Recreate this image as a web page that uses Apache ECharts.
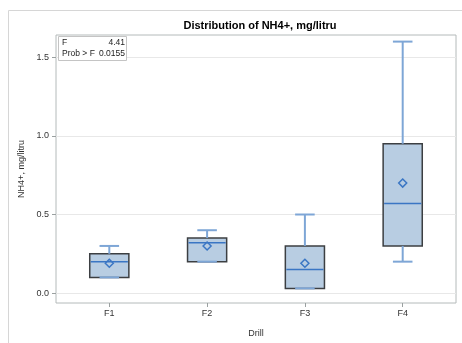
<!DOCTYPE html>
<html><head><meta charset="utf-8">
<script src="https://cdn.jsdelivr.net/npm/echarts@6/dist/echarts.min.js"></script>
<style>html,body{margin:0;padding:0;background:#fff}#c{width:462px;height:343px}</style>
</head><body><div id="c"></div>
<script>
const categories = ['F1','F2','F3','F4'];
const whiskerLow = [0.10, 0.20, 0.03, 0.20];
const q1 = [0.10, 0.20, 0.03, 0.30];
const median = [0.20, 0.32, 0.15, 0.57];
const q3 = [0.25, 0.35, 0.30, 0.95];
const whiskerHigh = [0.30, 0.40, 0.50, 1.60];
const means = [0.19, 0.30, 0.19, 0.70];
const yTicks = [0, 0.5, 1.0, 1.5];
const statsLabels = ['F', 'Prob > F'];
const statsValues = ['4.41', '0.0155'];

const FONT = 'Liberation Sans';
const data = categories.map((c, i) => [i, whiskerLow[i], q1[i], median[i], q3[i], whiskerHigh[i], means[i]]);

const chart = echarts.init(document.getElementById('c'));
chart.setOption({
  animation: false,
  title: {
    text: 'Distribution of NH4+, mg/litru',
    left: 255, top: 15, textAlign: 'center',
    textStyle: {fontFamily: FONT, fontSize: 11, fontWeight: 'bold', color: '#000'}
  },
  grid: {left: 56, top: 35, right: 6, bottom: 36, show: true, borderColor: '#b4baba', borderWidth: 1},
  xAxis: {
    type: 'value', min: -0.545, max: 3.545,
    name: 'Drill', nameLocation: 'middle', nameGap: 26,
    nameTextStyle: {fontFamily: FONT, fontSize: 9, color: '#333'},
    axisLine: {show: false, onZero: false},
    axisTick: {show: true, length: 4, customValues: categories.map((c, i) => i), lineStyle: {color: '#9aa0a0'}},
    axisLabel: {customValues: categories.map((c, i) => i), formatter: v => categories[Math.round(v)], fontFamily: FONT, fontSize: 9, color: '#333', margin: 6},
    splitLine: {show: false}
  },
  yAxis: {
    type: 'value', min: -0.063, max: 1.642,
    name: 'NH4+, mg/litru', nameLocation: 'middle', nameGap: 28,
    nameTextStyle: {fontFamily: FONT, fontSize: 9, color: '#333'},
    axisLine: {show: false, onZero: false},
    axisTick: {show: true, length: 4, customValues: yTicks, lineStyle: {color: '#9aa0a0'}},
    axisLabel: {customValues: yTicks, formatter: v => v.toFixed(1), fontFamily: FONT, fontSize: 9, color: '#333', margin: 7},
    splitLine: {show: true, lineStyle: {color: '#e8e8e8', width: 1}}
  },
  series: [{
    type: 'custom',
    data: data,
    encode: {x: 0, y: [1, 2, 3, 4, 5]},
    renderItem: function (params, api) {
      const x = api.value(0);
      const lo = api.coord([x, api.value(1)]);
      const b1 = api.coord([x, api.value(2)]);
      const md = api.coord([x, api.value(3)]);
      const b3 = api.coord([x, api.value(4)]);
      const hi = api.coord([x, api.value(5)]);
      const mn = api.coord([x, api.value(6)]);
      const bw = api.size([0.4, 0])[0];
      const cw = api.size([0.2, 0])[0];
      const cx = lo[0];
      const wStyle = {stroke: '#7ea6d6', lineWidth: 2};
      const ds = 4;
      return {
        type: 'group',
        children: [
          {type: 'rect', shape: {x: cx - bw / 2, y: b3[1], width: bw, height: b1[1] - b3[1]},
           style: {fill: '#b8cde2', stroke: '#3c3f42', lineWidth: 1.5}},
          {type: 'line', shape: {x1: cx, y1: hi[1], x2: cx, y2: b3[1]}, style: wStyle},
          {type: 'line', shape: {x1: cx, y1: lo[1], x2: cx, y2: b1[1]}, style: wStyle},
          {type: 'line', shape: {x1: cx - cw / 2, y1: hi[1], x2: cx + cw / 2, y2: hi[1]}, style: wStyle},
          {type: 'line', shape: {x1: cx - cw / 2, y1: lo[1], x2: cx + cw / 2, y2: lo[1]}, style: wStyle},
          {type: 'line', shape: {x1: cx - bw / 2 + 1, y1: md[1], x2: cx + bw / 2 - 1, y2: md[1]}, style: {stroke: '#3a76c4', lineWidth: 1.5}},
          {type: 'polygon', shape: {points: [[cx, mn[1] - ds], [cx + ds, mn[1]], [cx, mn[1] + ds], [cx - ds, mn[1]]]},
           style: {fill: 'none', stroke: '#3a76c4', lineWidth: 1.5}}
        ]
      };
    }
  }],
  graphic: [
    {type: 'line', shape: {x1: 8.5, y1: 10.5, x2: 462, y2: 10.5}, style: {stroke: '#d6d6d6', lineWidth: 1}},
    {type: 'line', shape: {x1: 8.5, y1: 10.5, x2: 8.5, y2: 343}, style: {stroke: '#d6d6d6', lineWidth: 1}},
    {type: 'rect', shape: {x: 58.5, y: 36.5, width: 68, height: 24}, style: {fill: '#fff', stroke: '#c4c4c4', lineWidth: 1}, z: 100},
    {type: 'text', x: 62, y: 38, style: {text: statsLabels[0], font: '8.5px "Liberation Sans"', fill: '#222'}, z: 101},
    {type: 'text', x: 125, y: 38, style: {text: statsValues[0], font: '8.5px "Liberation Sans"', fill: '#222', align: 'right'}, z: 101},
    {type: 'text', x: 62, y: 49, style: {text: statsLabels[1], font: '8.5px "Liberation Sans"', fill: '#222'}, z: 101},
    {type: 'text', x: 125, y: 49, style: {text: statsValues[1], font: '8.5px "Liberation Sans"', fill: '#222', align: 'right'}, z: 101}
  ]
});
</script></body></html>
